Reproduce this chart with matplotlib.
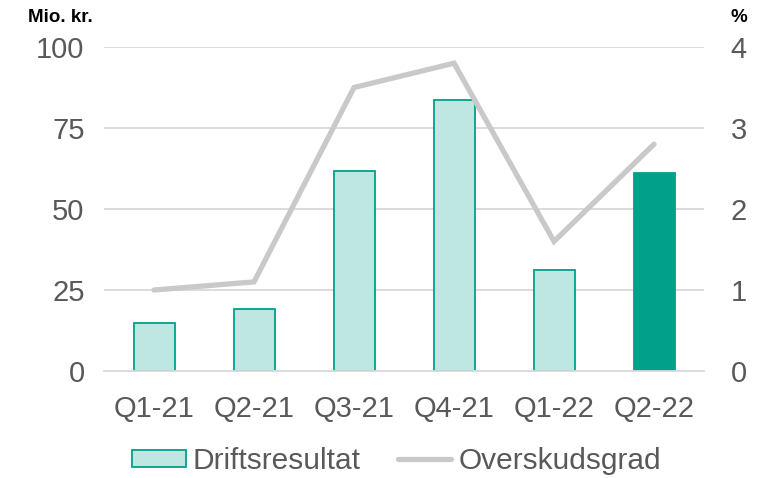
import matplotlib
matplotlib.use('Agg')
import matplotlib.pyplot as plt
from matplotlib.patches import Patch
import numpy as np

# data
quarters = ['Q1-21', 'Q2-21', 'Q3-21', 'Q4-21', 'Q1-22', 'Q2-22']
driftsresultat = [14.8, 19.1, 61.7, 83.6, 31.2, 61.1]
overskudsgrad = [1.0, 1.1, 3.5, 3.8, 1.6, 2.8]
left_ticks = [0, 25, 50, 75, 100]
right_ticks = [0, 1, 2, 3, 4]

plt.rcParams['font.family'] = ['Liberation Sans', 'DejaVu Sans']
grey_text = '#595959'
light = '#bfe7e2'
teal = '#00a08b'

fig = plt.figure(figsize=(7.67, 4.78), dpi=100)
ax = fig.add_axes([0.1356, 0.2238, 0.7823, 0.6779])
ax2 = ax.twinx()

x = np.arange(len(quarters))
faces = [light] * (len(quarters) - 1) + [teal]
ax.bar(x, driftsresultat, width=0.41, color=faces, edgecolor=teal,
       linewidth=1.3, zorder=2)

line, = ax2.plot(x, overskudsgrad, color='#c9c9c9', linewidth=3.8,
                 solid_capstyle='round', solid_joinstyle='miter')

ax.set_xlim(-0.5, len(quarters) - 0.5)
ax.set_ylim(0, 100)
ax2.set_ylim(0, 4)
ax.set_yticks(left_ticks)
ax2.set_yticks(right_ticks)
ax.set_xticks(x)
ax.set_xticklabels(quarters)

ax.grid(axis='y', color='#d9d9d9', linewidth=1.3, zorder=0)
ax.set_axisbelow(True)
for a in (ax, ax2):
    for s in a.spines.values():
        s.set_visible(False)
    a.tick_params(length=0, labelsize=21, colors=grey_text)
ax.spines['bottom'].set_visible(True)
ax.spines['bottom'].set_color('#d9d9d9')
ax.spines['bottom'].set_linewidth(1.3)
ax.tick_params(axis='x', pad=17)
ax.tick_params(axis='y', pad=14)
ax2.tick_params(axis='y', pad=19)

fig.text(0.037, 0.953, 'Mio. kr.', fontsize=13.5, fontweight='bold', color='black')
fig.text(0.952, 0.953, '%', fontsize=13.5, fontweight='bold', color='black')

handles = [Patch(facecolor=light, edgecolor=teal, linewidth=1.3), line]
fig.legend(handles, ['Driftsresultat', 'Overskudsgrad'], loc='center',
           bbox_to_anchor=(0.517, 0.036), ncol=2, frameon=False, fontsize=21.5,
           labelcolor=grey_text, handlelength=1.8, handleheight=0.5,
           handletextpad=0.23, columnspacing=1.24, borderpad=0)

plt.savefig('out.png', dpi=100)
